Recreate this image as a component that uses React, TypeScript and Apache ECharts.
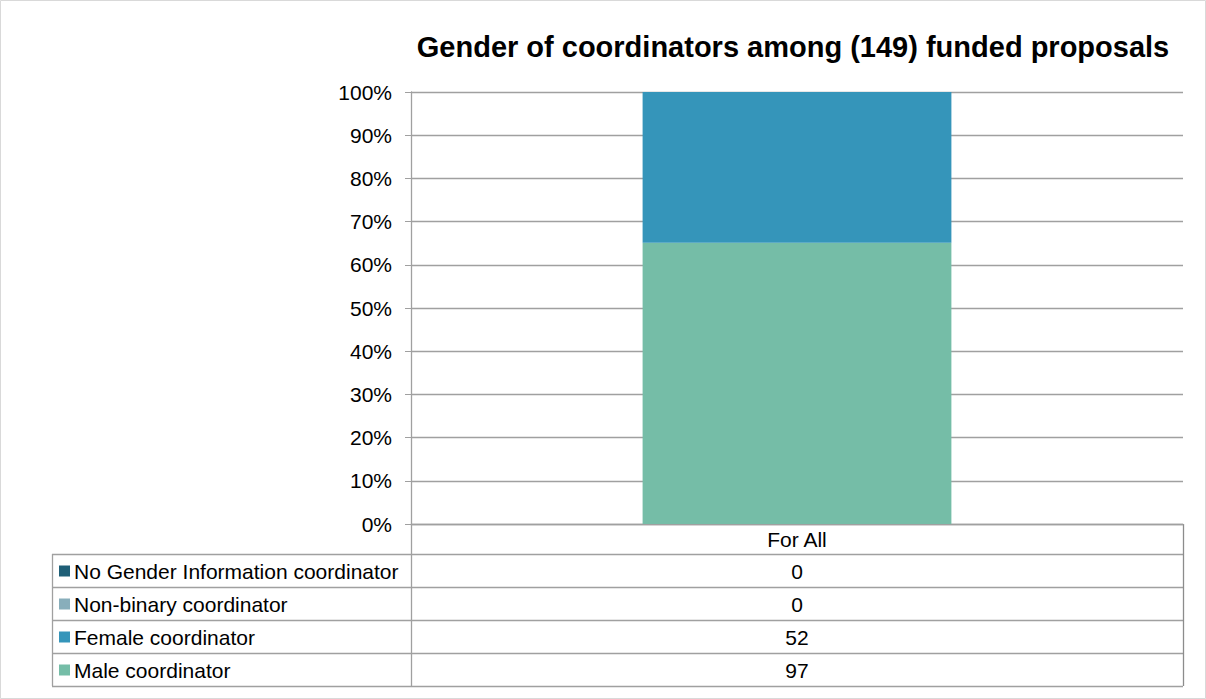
import React, { useEffect, useRef } from "react";
import * as echarts from "echarts";

const title = "Gender of coordinators among (149) funded proposals";
const categories = ["For All"];
const seriesNames = [
  "Male coordinator",
  "Female coordinator",
  "Non-binary coordinator",
  "No Gender Information coordinator",
];
const seriesCounts = [[97], [52], [0], [0]];
const seriesColors = ["#75BDA7", "#3595BA", "#88AEBB", "#1F5F77"];
const yTicks = [0, 10, 20, 30, 40, 50, 60, 70, 80, 90, 100];

const FONT = "'Liberation Sans', Arial, Helvetica, sans-serif";
const LINE = "#A0A0A0";

export default function App() {
  const ref = useRef<HTMLDivElement>(null);
  useEffect(() => {
    if (!ref.current) return;
    const chart = echarts.init(ref.current, null, { renderer: "svg" });

    const totals = categories.map((_, ci) =>
      seriesCounts.reduce((s, arr) => s + arr[ci], 0)
    );

    const gridLeft = 411;
    const gridRight = 1183;
    const gridTop = 92;
    const gridBottom = 524;
    const rowTops = [554, 587, 620, 653];
    const rowH = 33;
    const tableBottom = 686;
    const tableLeft = 52;
    const centerX = (gridLeft + gridRight) / 2;

    const graphics: any[] = [];
    graphics.push({
      type: "rect",
      shape: { x: 0.5, y: 0.5, width: 1205, height: 698 },
      style: { fill: "none", stroke: "#D9D9D9", lineWidth: 1 },
      silent: true,
    });
    const hl = (x1: number, x2: number, y: number) =>
      graphics.push({
        type: "line",
        shape: { x1, y1: y + 0.5, x2, y2: y + 0.5 },
        style: { stroke: LINE, lineWidth: 1.3 },
        silent: true,
      });
    const vl = (x: number, y1: number, y2: number, c = LINE) =>
      graphics.push({
        type: "line",
        shape: { x1: x + 0.5, y1, x2: x + 0.5, y2 },
        style: { stroke: c, lineWidth: 1.3 },
        silent: true,
      });
    hl(tableLeft, gridRight, rowTops[0]);
    rowTops.forEach((t) => hl(tableLeft, gridRight, t + rowH));
    vl(tableLeft, rowTops[0], tableBottom);
    vl(gridLeft, gridBottom, tableBottom);
    vl(gridRight, gridBottom, tableBottom, "#8C8C8C");

    const displayOrder = [3, 2, 1, 0];
    displayOrder.forEach((si, ri) => {
      const cy = rowTops[ri] + rowH / 2 + 0.5;
      graphics.push({
        type: "rect",
        shape: { x: 59, y: cy - 5.5, width: 11, height: 11 },
        style: { fill: seriesColors[si] },
        silent: true,
      });
      graphics.push({
        type: "text",
        x: 74,
        y: cy,
        style: {
          text: seriesNames[si],
          fontSize: 21,
          fontFamily: FONT,
          fill: "#000",
          verticalAlign: "middle",
          align: "left",
        },
        silent: true,
      });
      graphics.push({
        type: "text",
        x: centerX,
        y: cy,
        style: {
          text: String(seriesCounts[si][0]),
          fontSize: 21,
          fontFamily: FONT,
          fill: "#000",
          verticalAlign: "middle",
          align: "center",
        },
        silent: true,
      });
    });

    chart.setOption({
      animation: false,
      title: {
        text: title,
        left: 788,
        top: 27,
        textAlign: "center",
        textStyle: {
          fontSize: 29,
          fontWeight: "bold",
          fontFamily: FONT,
          color: "#000",
        },
      },
      grid: {
        left: gridLeft,
        right: 1206 - gridRight,
        top: gridTop,
        bottom: 699 - gridBottom,
        containLabel: false,
      },
      xAxis: {
        type: "category",
        data: categories,
        axisLine: { show: true, lineStyle: { color: LINE, width: 1.3 } },
        axisTick: { show: false },
        axisLabel: {
          fontSize: 21,
          fontFamily: FONT,
          color: "#000",
          margin: 5,
        },
      },
      yAxis: {
        type: "value",
        min: 0,
        max: 100,
        interval: 10,
        axisLine: { show: true, lineStyle: { color: LINE, width: 1.3 } },
        axisTick: { show: true, length: 6, lineStyle: { color: LINE } },
        splitLine: { show: true, lineStyle: { color: LINE, width: 1.3 } },
        axisLabel: {
          fontSize: 21,
          fontFamily: FONT,
          color: "#000",
          margin: 19,
          formatter: (v: number) => (yTicks.includes(v) ? v + "%" : ""),
        },
      },
      series: seriesNames.map((name, si) => ({
        name,
        type: "bar",
        stack: "total",
        barWidth: "40%",
        itemStyle: { color: seriesColors[si] },
        data: seriesCounts[si].map((v, ci) => (v / totals[ci]) * 100),
      })),
      graphic: graphics,
    });
    return () => chart.dispose();
  }, []);
  return (
    <div
      ref={ref}
      style={{
        position: "fixed",
        left: 0,
        top: 0,
        width: 1206,
        height: 699,
        background: "#fff",
      }}
    />
  );
}
